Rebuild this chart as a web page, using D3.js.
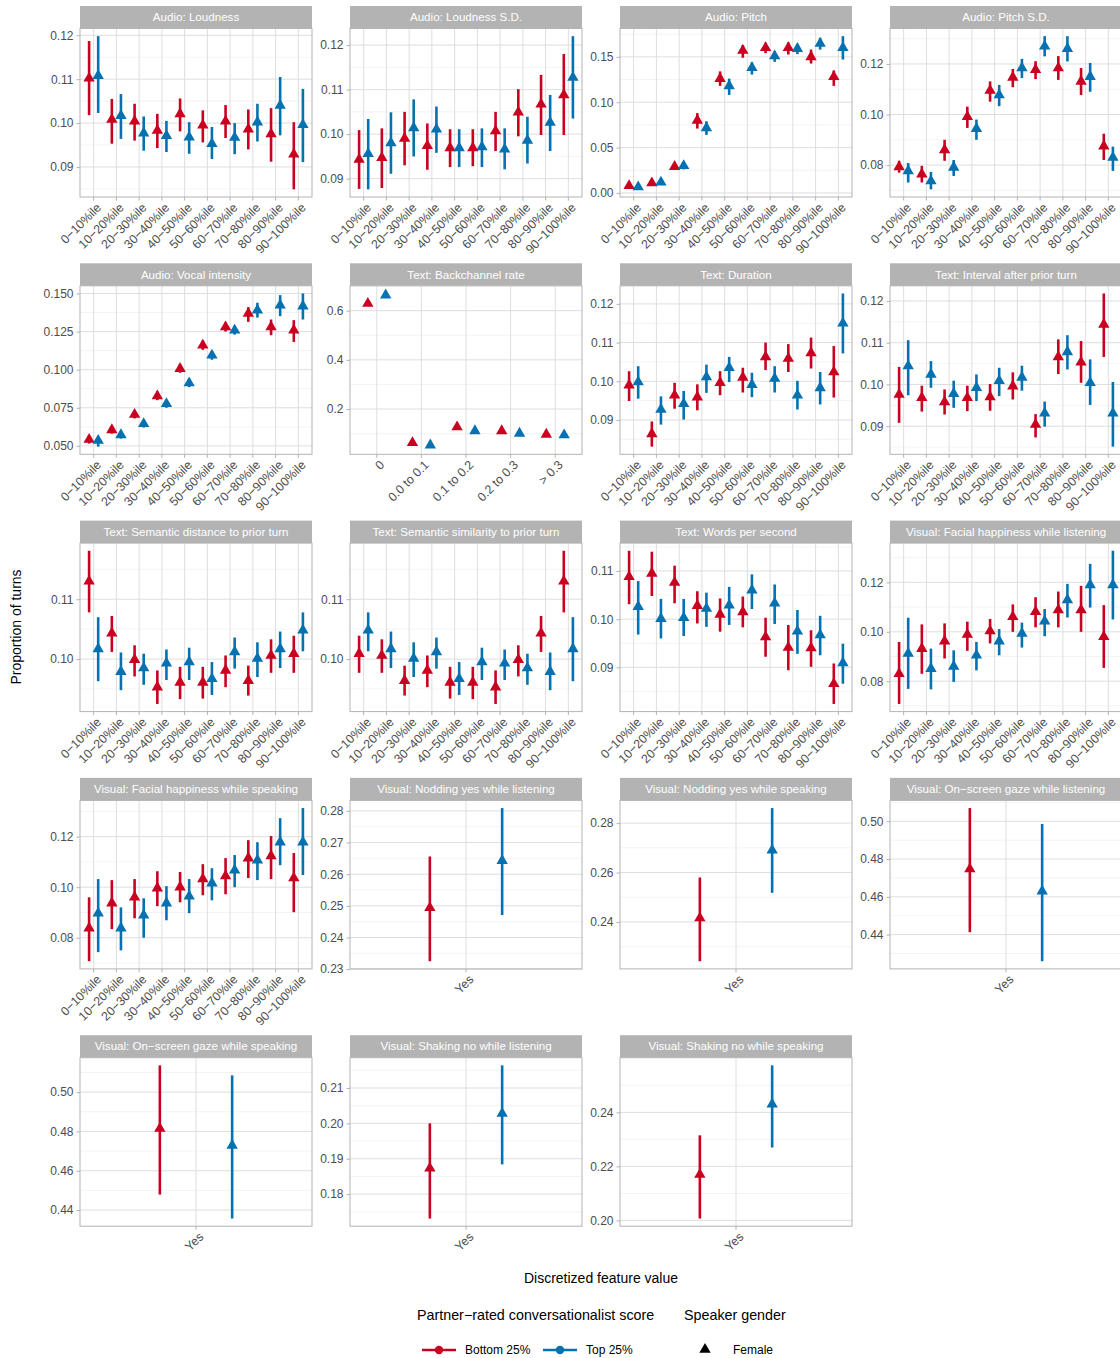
<!DOCTYPE html>
<html>
<head>
<meta charset="utf-8">
<script src="https://cdn.jsdelivr.net/npm/d3@7"></script>
<style>
body { margin: 0; background: #fff; }
text { font-family: "Liberation Sans", Arial, Helvetica, sans-serif; }
</style>
</head>
<body>
<script>

// categories
var deciles = ["0−10%ile", "10−20%ile", "20−30%ile", "30−40%ile", "40−50%ile",
               "50−60%ile", "60−70%ile", "70−80%ile", "80−90%ile", "90−100%ile"];
var backchannelCats = ["0", "0.0 to 0.1", "0.1 to 0.2", "0.2 to 0.3", "> 0.3"];
var yesCats = ["Yes"];

// each row: [estimate, lower CI, upper CI]; Bottom 25% (red) and Top 25% (blue)
var loudnessBottom = [[0.1102,0.1018,0.1187],[0.1008,0.0953,0.1055],[0.1004,0.0960,0.1044],[0.0983,0.0943,0.1021],[0.1021,0.0981,0.1056],[0.0995,0.0956,0.1029],[0.1004,0.0966,0.1041],[0.0986,0.0940,0.1031],[0.0975,0.0912,0.1034],[0.0929,0.0849,0.1002]];
var loudnessTop    = [[0.1108,0.1023,0.1198],[0.1017,0.0964,0.1066],[0.0977,0.0937,0.1015],[0.0971,0.0934,0.1005],[0.0968,0.0930,0.1002],[0.0953,0.0918,0.0991],[0.0967,0.0929,0.1000],[0.1002,0.0958,0.1044],[0.1040,0.0972,0.1105],[0.0996,0.0911,0.1078]];

var loudSdBottom = [[0.0943,0.0877,0.1009],[0.0947,0.0879,0.1013],[0.0990,0.0930,0.1050],[0.0974,0.0920,0.1024],[0.0969,0.0926,0.1011],[0.0969,0.0928,0.1011],[0.1007,0.0962,0.1050],[0.1049,0.0995,0.1101],[0.1067,0.0998,0.1133],[0.1088,0.0998,0.1180]];
var loudSdTop    = [[0.0956,0.0876,0.1034],[0.0980,0.0911,0.1049],[0.1014,0.0950,0.1078],[0.1011,0.0958,0.1062],[0.0969,0.0926,0.1011],[0.0971,0.0926,0.1013],[0.0966,0.0921,0.1013],[0.0986,0.0934,0.1039],[0.1026,0.0962,0.1088],[0.1127,0.1035,0.1220]];

var pitchBottom = [[0.0080,0.0050,0.0110],[0.0110,0.0080,0.0140],[0.0290,0.0260,0.0330],[0.0800,0.0710,0.0880],[0.1260,0.1180,0.1340],[0.1570,0.1490,0.1630],[0.1600,0.1540,0.1655],[0.1600,0.1525,0.1660],[0.1500,0.1426,0.1580],[0.1280,0.1180,0.1350]];
var pitchTop    = [[0.0066,0.0040,0.0090],[0.0118,0.0090,0.0150],[0.0300,0.0260,0.0340],[0.0717,0.0640,0.0790],[0.1180,0.1080,0.1260],[0.1380,0.1305,0.1440],[0.1510,0.1445,0.1560],[0.1590,0.1530,0.1640],[0.1647,0.1580,0.1710],[0.1600,0.1470,0.1728]];

var pitchSdBottom = [[0.0793,0.0770,0.0817],[0.0764,0.0731,0.0797],[0.0860,0.0817,0.0900],[0.0991,0.0947,0.1031],[0.1095,0.1051,0.1131],[0.1147,0.1108,0.1180],[0.1177,0.1140,0.1211],[0.1184,0.1137,0.1231],[0.1131,0.1077,0.1184],[0.0875,0.0820,0.0924]];
var pitchSdTop    = [[0.0777,0.0731,0.0808],[0.0737,0.0704,0.0773],[0.0791,0.0757,0.0820],[0.0944,0.0900,0.0980],[0.1077,0.1033,0.1117],[0.1184,0.1144,0.1220],[0.1270,0.1230,0.1310],[0.1260,0.1210,0.1310],[0.1150,0.1090,0.1204],[0.0830,0.0777,0.0873]];

var vocalBottom = [[0.0542,0.0515,0.0565],[0.0605,0.0580,0.0630],[0.0706,0.0680,0.0730],[0.0827,0.0800,0.0855],[0.1007,0.0980,0.1035],[0.1160,0.1130,0.1190],[0.1280,0.1250,0.1310],[0.1368,0.1314,0.1410],[0.1280,0.1226,0.1329],[0.1259,0.1182,0.1325]];
var vocalTop    = [[0.0535,0.0495,0.0560],[0.0572,0.0548,0.0597],[0.0645,0.0620,0.0670],[0.0776,0.0750,0.0800],[0.0912,0.0885,0.0940],[0.1094,0.1065,0.1122],[0.1259,0.1230,0.1288],[0.1390,0.1342,0.1439],[0.1423,0.1351,0.1489],[0.1417,0.1329,0.1500]];

var backchannelBottom = [[0.629,0.622,0.636],[0.0628,0.057,0.068],[0.127,0.120,0.134],[0.111,0.104,0.118],[0.097,0.091,0.103]];
var backchannelTop    = [[0.663,0.656,0.670],[0.053,0.047,0.059],[0.111,0.105,0.117],[0.101,0.095,0.107],[0.094,0.088,0.100]];

var durationBottom = [[0.0990,0.0949,0.1026],[0.0864,0.0831,0.0896],[0.0964,0.0929,0.0996],[0.0959,0.0925,0.0992],[0.0996,0.0964,0.1026],[0.1010,0.0971,0.1035],[0.1063,0.1029,0.1100],[0.1059,0.1024,0.1096],[0.1073,0.1033,0.1113],[0.1024,0.0958,0.1091]];
var durationTop    = [[0.0998,0.0955,0.1039],[0.0927,0.0888,0.0961],[0.0942,0.0901,0.0975],[0.1011,0.0970,0.1043],[0.1035,0.0998,0.1063],[0.0991,0.0959,0.1022],[0.1007,0.0971,0.1039],[0.0964,0.0927,0.1001],[0.0983,0.0940,0.1024],[0.1150,0.1072,0.1227]];

var intervalBottom = [[0.0976,0.0908,0.1042],[0.0968,0.0935,0.0997],[0.0958,0.0928,0.0988],[0.0968,0.0936,0.0997],[0.0970,0.0937,0.1001],[0.0996,0.0964,0.1029],[0.0904,0.0873,0.0929],[0.1066,0.1025,0.1108],[0.1053,0.1004,0.1104],[0.1144,0.1066,0.1218]];
var intervalTop    = [[0.1044,0.0974,0.1106],[0.1024,0.0992,0.1056],[0.0978,0.0944,0.1009],[0.0992,0.0960,0.1024],[0.1009,0.0972,0.1040],[0.1017,0.0985,0.1045],[0.0931,0.0899,0.0959],[0.1078,0.1036,0.1118],[0.1004,0.0951,0.1060],[0.0931,0.0851,0.1006]];

var semDistBottom = [[0.1130,0.1078,0.1181],[0.1043,0.1012,0.1072],[0.0999,0.0971,0.1023],[0.0953,0.0925,0.0981],[0.0961,0.0933,0.0987],[0.0961,0.0934,0.0987],[0.0981,0.0953,0.1006],[0.0964,0.0939,0.0989],[0.1006,0.0977,0.1033],[0.1009,0.0977,0.1039]];
var semDistTop    = [[0.1017,0.0963,0.1070],[0.0979,0.0948,0.1011],[0.0985,0.0957,0.1009],[0.0993,0.0965,0.1016],[0.0995,0.0965,0.1019],[0.0967,0.0940,0.0995],[0.1012,0.0984,0.1036],[0.1001,0.0970,0.1028],[0.1017,0.0985,0.1046],[0.1048,0.1013,0.1078]];

var semSimBottom = [[0.1009,0.0977,0.1039],[0.1006,0.0977,0.1033],[0.0964,0.0939,0.0989],[0.0981,0.0953,0.1006],[0.0961,0.0934,0.0987],[0.0961,0.0933,0.0987],[0.0953,0.0925,0.0981],[0.0999,0.0971,0.1023],[0.1043,0.1012,0.1072],[0.1130,0.1078,0.1181]];
var semSimTop    = [[0.1048,0.1013,0.1078],[0.1017,0.0985,0.1046],[0.1001,0.0970,0.1028],[0.1012,0.0984,0.1036],[0.0967,0.0940,0.0995],[0.0995,0.0965,0.1019],[0.0993,0.0965,0.1016],[0.0985,0.0957,0.1009],[0.0979,0.0948,0.1011],[0.1017,0.0963,0.1070]];

var wpsBottom = [[0.1088,0.1031,0.1142],[0.1095,0.1048,0.1140],[0.1076,0.1033,0.1111],[0.1028,0.0991,0.1058],[0.1010,0.0974,0.1043],[0.1015,0.0983,0.1047],[0.0963,0.0922,0.1003],[0.0941,0.0894,0.0988],[0.0940,0.0901,0.0977],[0.0866,0.0824,0.0908]];
var wpsTop    = [[0.1026,0.0968,0.1079],[0.1001,0.0960,0.1042],[0.1003,0.0965,0.1042],[0.1022,0.0984,0.1055],[0.1029,0.0988,0.1067],[0.1060,0.1021,0.1093],[0.1033,0.0990,0.1072],[0.0975,0.0928,0.1019],[0.0967,0.0925,0.1007],[0.0909,0.0866,0.0949]];

var happyListenBottom = [[0.0830,0.0708,0.0959],[0.0932,0.0830,0.1030],[0.0962,0.0892,0.1034],[0.0989,0.0923,0.1041],[0.1003,0.0953,0.1052],[0.1061,0.1000,0.1111],[0.1081,0.1018,0.1140],[0.1088,0.1018,0.1163],[0.1088,0.1000,0.1186],[0.0980,0.0854,0.1108]];
var happyListenTop    = [[0.0912,0.0769,0.1057],[0.0851,0.0767,0.0932],[0.0860,0.0797,0.0925],[0.0905,0.0844,0.0959],[0.0962,0.0905,0.1011],[0.0993,0.0936,0.1037],[0.1043,0.0982,0.1092],[0.1129,0.1058,0.1194],[0.1190,0.1098,0.1275],[0.1190,0.1050,0.1328]];

var happySpeakBottom = [[0.0838,0.0707,0.0960],[0.0937,0.0834,0.1028],[0.0960,0.0877,0.1032],[0.0996,0.0925,0.1063],[0.1000,0.0940,0.1060],[0.1032,0.0968,0.1091],[0.1044,0.0972,0.1115],[0.1115,0.1036,0.1186],[0.1123,0.1032,0.1202],[0.1036,0.0901,0.1135]];
var happySpeakTop    = [[0.0897,0.0743,0.1032],[0.0838,0.0750,0.0920],[0.0889,0.0800,0.0956],[0.0937,0.0869,0.1004],[0.0964,0.0897,0.1032],[0.1016,0.0948,0.1075],[0.1067,0.1000,0.1127],[0.1107,0.1028,0.1178],[0.1178,0.1087,0.1273],[0.1178,0.1048,0.1313]];

var nodListenBottom = [[0.2494,0.2325,0.2656]];
var nodListenTop    = [[0.2643,0.2471,0.2809]];
var nodSpeakBottom  = [[0.2416,0.2241,0.2580]];
var nodSpeakTop     = [[0.2690,0.2518,0.2861]];
var gazeListenBottom = [[0.4747,0.4413,0.5070]];
var gazeListenTop    = [[0.4630,0.4259,0.4986]];
var gazeSpeakBottom  = [[0.4815,0.4479,0.5136]];
var gazeSpeakTop     = [[0.4729,0.4357,0.5085]];
var shakeListenBottom = [[0.1873,0.1731,0.2000]];
var shakeListenTop    = [[0.2028,0.1884,0.2164]];
var shakeSpeakBottom  = [[0.2170,0.2007,0.2315]];
var shakeSpeakTop     = [[0.2430,0.2270,0.2574]];

// y tick values per panel
var ticksA = [0.09, 0.10, 0.11, 0.12];
var ticksPitch = [0, 0.05, 0.10, 0.15];
var ticksB = [0.08, 0.10, 0.12];
var ticksVocal = [0.05, 0.075, 0.10, 0.125, 0.15];
var ticksBackchannel = [0.2, 0.4, 0.6];
var ticksSem = [0.10, 0.11];
var ticksWps = [0.09, 0.10, 0.11];
var ticksNodListen = [0.23, 0.24, 0.25, 0.26, 0.27, 0.28];
var ticksNodSpeak = [0.24, 0.26, 0.28];
var ticksGaze = [0.44, 0.46, 0.48, 0.50];
var ticksShakeListen = [0.18, 0.19, 0.20, 0.21];
var ticksShakeSpeak = [0.20, 0.22, 0.24];

var panels = [
  {title: "Audio: Loudness", cats: deciles, bottom: loudnessBottom, top: loudnessTop, ticks: ticksA},
  {title: "Audio: Loudness S.D.", cats: deciles, bottom: loudSdBottom, top: loudSdTop, ticks: ticksA},
  {title: "Audio: Pitch", cats: deciles, bottom: pitchBottom, top: pitchTop, ticks: ticksPitch},
  {title: "Audio: Pitch S.D.", cats: deciles, bottom: pitchSdBottom, top: pitchSdTop, ticks: ticksB},
  {title: "Audio: Vocal intensity", cats: deciles, bottom: vocalBottom, top: vocalTop, ticks: ticksVocal},
  {title: "Text: Backchannel rate", cats: backchannelCats, bottom: backchannelBottom, top: backchannelTop, ticks: ticksBackchannel},
  {title: "Text: Duration", cats: deciles, bottom: durationBottom, top: durationTop, ticks: ticksA},
  {title: "Text: Interval after prior turn", cats: deciles, bottom: intervalBottom, top: intervalTop, ticks: ticksA},
  {title: "Text: Semantic distance to prior turn", cats: deciles, bottom: semDistBottom, top: semDistTop, ticks: ticksSem},
  {title: "Text: Semantic similarity to prior turn", cats: deciles, bottom: semSimBottom, top: semSimTop, ticks: ticksSem},
  {title: "Text: Words per second", cats: deciles, bottom: wpsBottom, top: wpsTop, ticks: ticksWps},
  {title: "Visual: Facial happiness while listening", cats: deciles, bottom: happyListenBottom, top: happyListenTop, ticks: ticksB},
  {title: "Visual: Facial happiness while speaking", cats: deciles, bottom: happySpeakBottom, top: happySpeakTop, ticks: ticksB},
  {title: "Visual: Nodding yes while listening", cats: yesCats, bottom: nodListenBottom, top: nodListenTop, ticks: ticksNodListen},
  {title: "Visual: Nodding yes while speaking", cats: yesCats, bottom: nodSpeakBottom, top: nodSpeakTop, ticks: ticksNodSpeak},
  {title: "Visual: On−screen gaze while listening", cats: yesCats, bottom: gazeListenBottom, top: gazeListenTop, ticks: ticksGaze},
  {title: "Visual: On−screen gaze while speaking", cats: yesCats, bottom: gazeSpeakBottom, top: gazeSpeakTop, ticks: ticksGaze},
  {title: "Visual: Shaking no while listening", cats: yesCats, bottom: shakeListenBottom, top: shakeListenTop, ticks: ticksShakeListen},
  {title: "Visual: Shaking no while speaking", cats: yesCats, bottom: shakeSpeakBottom, top: shakeSpeakTop, ticks: ticksShakeSpeak}
];

var red = "#CA0020", blue = "#0571B0";
var colX = [80, 350, 620, 890], panelW = 232;
var rowY0 = 6, rowStep = 257.3, stripH = 22.5, plotH = 168.5;

var svg = d3.select("body").append("svg")
    .attr("width", 1120)
    .attr("height", 1358);

var tri = d3.symbol().type(d3.symbolTriangle).size(56);

//how many decimals a tick set needs (ggplot style, same for all labels)
function decimalsFor(ticks) {
  var d = 0;
  ticks.forEach(function(t) {
    var k = 0;
    while (k < 6 && Math.abs(Math.round(t * Math.pow(10, k)) - t * Math.pow(10, k)) > 1e-7) k++;
    d = Math.max(d, k);
  });
  return d;
}

panels.forEach(function(p, i) {
  var col = i % 4, row = Math.floor(i / 4);
  var g = svg.append("g")
      .attr("transform", "translate(" + colX[col] + "," + (rowY0 + row * rowStep) + ")");

  // strip
  g.append("rect")
      .attr("width", panelW).attr("height", stripH)
      .attr("fill", "#B3B3B3");
  g.append("text")
      .attr("x", panelW / 2).attr("y", stripH / 2 + 4)
      .attr("text-anchor", "middle")
      .attr("fill", "white")
      .attr("font-size", 11.6)
      .text(p.title);

  var pg = g.append("g").attr("transform", "translate(0," + stripH + ")");
  var n = p.cats.length;
  var dodge = n === 1 ? 0.187 : 0.2;
  var x = d3.scaleLinear().domain([0.4, n + 0.6]).range([0, panelW]);

  var all = p.bottom.concat(p.top);
  var lo = d3.min(all, function(d) { return d[1]; });
  var hi = d3.max(all, function(d) { return d[2]; });
  var pad = (hi - lo) * 0.05;
  var y = d3.scaleLinear().domain([lo - pad, hi + pad]).range([plotH, 0]);

  // minor grid lines halfway between majors
  var step = p.ticks[1] - p.ticks[0];
  var minors = [];
  for (var k = -1; k < p.ticks.length; k++) {
    var v = p.ticks[0] + (k + 0.5) * step;
    if (v > y.domain()[0] && v < y.domain()[1]) minors.push(v);
  }
  pg.selectAll(".minor").data(minors).enter().append("line")
      .attr("x1", 0).attr("x2", panelW)
      .attr("y1", function(d) { return y(d); }).attr("y2", function(d) { return y(d); })
      .attr("stroke", "#EBEBEB").attr("stroke-width", 0.6);
  pg.selectAll(".major").data(p.ticks).enter().append("line")
      .attr("x1", 0).attr("x2", panelW)
      .attr("y1", function(d) { return y(d); }).attr("y2", function(d) { return y(d); })
      .attr("stroke", "#DEDEDE").attr("stroke-width", 1);
  pg.selectAll(".vgrid").data(p.cats).enter().append("line")
      .attr("x1", function(d, j) { return x(j + 1); }).attr("x2", function(d, j) { return x(j + 1); })
      .attr("y1", 0).attr("y2", plotH)
      .attr("stroke", "#DEDEDE").attr("stroke-width", 1);

  // border
  pg.append("rect")
      .attr("width", panelW).attr("height", plotH)
      .attr("fill", "none").attr("stroke", "#B3B3B3").attr("stroke-width", 1);

  // y axis
  var dec = decimalsFor(p.ticks);
  var yAxis = pg.append("g")
      .call(d3.axisLeft(y).tickValues(p.ticks).tickSize(3.5).tickPadding(3)
            .tickFormat(function(d) { return d.toFixed(dec); }));
  yAxis.select(".domain").remove();
  yAxis.selectAll("line").attr("stroke", "#B3B3B3");
  yAxis.selectAll("text").attr("fill", "#4D4D4D").attr("font-size", 12)
      .style("font-family", "Liberation Sans, Arial, sans-serif");

  // x ticks and rotated labels
  pg.selectAll(".xtick").data(p.cats).enter().append("line")
      .attr("x1", function(d, j) { return x(j + 1); }).attr("x2", function(d, j) { return x(j + 1); })
      .attr("y1", plotH).attr("y2", plotH + 3.5)
      .attr("stroke", "#B3B3B3");
  pg.selectAll(".xlab").data(p.cats).enter().append("text")
      .attr("text-anchor", "end")
      .attr("fill", "#4D4D4D")
      .attr("font-size", 12.4)
      .attr("dy", "0.72em")
      .attr("transform", function(d, j) {
        return "translate(" + (x(j + 1) + 2) + "," + (plotH + 5) + ") rotate(-45)";
      })
      .text(function(d) { return d; });

  // series
  [[p.bottom, red, -dodge], [p.top, blue, dodge]].forEach(function(s) {
    var grp = pg.append("g");
    grp.selectAll("line").data(s[0]).enter().append("line")
        .attr("x1", function(d, j) { return x(j + 1 + s[2]); })
        .attr("x2", function(d, j) { return x(j + 1 + s[2]); })
        .attr("y1", function(d) { return y(d[1]); })
        .attr("y2", function(d) { return y(d[2]); })
        .attr("stroke", s[1]).attr("stroke-width", 2.6);
    grp.selectAll("path").data(s[0]).enter().append("path")
        .attr("d", tri)
        .attr("transform", function(d, j) { return "translate(" + x(j + 1 + s[2]) + "," + y(d[0]) + ")"; })
        .attr("fill", s[1]);
  });
});

// axis titles
svg.append("text")
    .attr("transform", "translate(21,627) rotate(-90)")
    .attr("text-anchor", "middle")
    .attr("font-size", 14)
    .text("Proportion of turns");
svg.append("text")
    .attr("x", 601).attr("y", 1283)
    .attr("text-anchor", "middle")
    .attr("font-size", 14)
    .text("Discretized feature value");

// legend
var legendItems = [["Bottom 25%", red, 422], ["Top 25%", blue, 543]];
svg.append("text").attr("x", 417).attr("y", 1320).attr("font-size", 14.3)
    .text("Partner−rated conversationalist score");
svg.append("text").attr("x", 684).attr("y", 1320).attr("font-size", 14.3)
    .text("Speaker gender");
legendItems.forEach(function(it) {
  svg.append("line")
      .attr("x1", it[2]).attr("x2", it[2] + 34)
      .attr("y1", 1350).attr("y2", 1350)
      .attr("stroke", it[1]).attr("stroke-width", 2.6);
  svg.append("circle")
      .attr("cx", it[2] + 17).attr("cy", 1350).attr("r", 4.2)
      .attr("fill", it[1]);
  svg.append("text")
      .attr("x", it[2] + 43).attr("y", 1354)
      .attr("font-size", 12)
      .text(it[0]);
});
svg.append("path")
    .attr("d", tri)
    .attr("transform", "translate(705,1349.5)")
    .attr("fill", "black");
svg.append("text").attr("x", 733).attr("y", 1354).attr("font-size", 12).text("Female");

</script>
</body>
</html>
